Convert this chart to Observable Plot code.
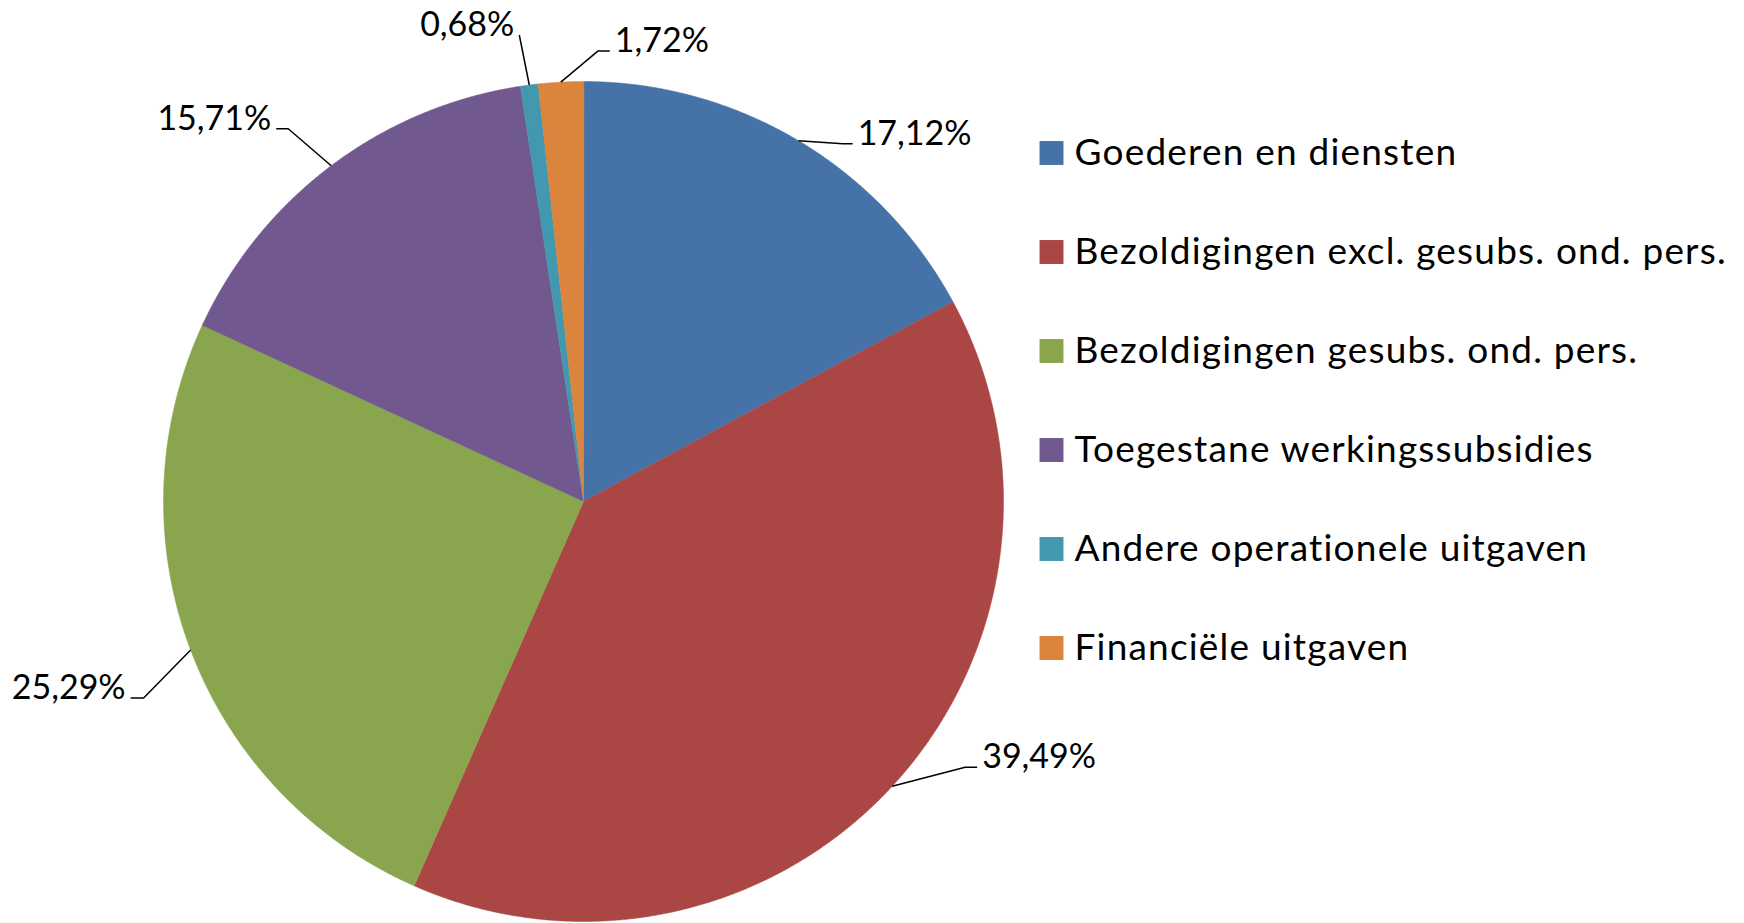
<!DOCTYPE html>
<html>
<head>
<meta charset="utf-8">
<script src="https://cdn.jsdelivr.net/npm/d3@7"></script>
<script src="https://cdn.jsdelivr.net/npm/@observablehq/plot@0.6"></script>
<style>
  html, body { margin: 0; padding: 0; background: #ffffff; }
  #chart svg { display: block; }
  .legend-text text { letter-spacing: 1.2px; }
</style>
</head>
<body>
<div id="chart"></div>
<script>
// ---- data ----
const categories = [
  "Goederen en diensten",
  "Bezoldigingen excl. gesubs. ond. pers.",
  "Bezoldigingen gesubs. ond. pers.",
  "Toegestane werkingssubsidies",
  "Andere operationele uitgaven",
  "Financiële uitgaven"
];
const values = [17.12, 39.49, 25.29, 15.71, 0.68, 1.72];
const colors = ["#4572A7", "#AA4643", "#89A54E", "#71588F", "#4198AF", "#DB843D"];

// ---- layout (pixels) ----
const W = 1744, H = 923;
const CX = 583, CY = 501, R = 420;
// label leader offsets relative to the slice mid-point on the rim: [dx, dy, side, tail]
const labelLayout = [
  [44, 3, 1, 10],
  [73, -19, 1, 12],
  [-47, 48, -1, 13],
  [-43, -37, -1, 12],
  [-10, -50, -1, 0],
  [37, -31, 1, 12]
];
const legendX = 1051, legendY0 = 152.5, legendStep = 99, legendTextX = 1074;

// pixel -> data units (radius = 1)
const ux = px => (px - CX) / R;
const uy = py => (CY - py) / R;

const fmt = v => d3.format(".2f")(v).replace(".", ",") + "%";

const arcs = d3.pie().sort(null).value(d => d)(values);

// pie slice polygons
const slicePts = [];
arcs.forEach((a, i) => {
  const cat = categories[i];
  slicePts.push({cat, x: 0, y: 0});
  const n = Math.max(2, Math.ceil((a.endAngle - a.startAngle) / (Math.PI / 720)));
  for (let k = 0; k <= n; k++) {
    const t = a.startAngle + (a.endAngle - a.startAngle) * k / n;
    slicePts.push({cat, x: Math.sin(t), y: Math.cos(t)});
  }
});

// leader lines and labels
const leaderPts = [];
const labelData = [];
arcs.forEach((a, i) => {
  const m = (a.startAngle + a.endAngle) / 2;
  const ax = CX + R * Math.sin(m), ay = CY - R * Math.cos(m);
  const [dx, dy, side, tail] = labelLayout[i];
  const ex = ax + dx, ey = ay + dy;
  const fx = ex + side * tail;
  const id = categories[i];
  leaderPts.push({id, x: ux(ax), y: uy(ay)});
  leaderPts.push({id, x: ux(ex), y: uy(ey)});
  if (tail > 0) leaderPts.push({id, x: ux(fx), y: uy(ey)});
  labelData.push({
    text: fmt(values[i]),
    side,
    x: ux(fx + side * 5),
    y: uy(ey - 10)
  });
});

const legendData = categories.map((c, i) => ({
  cat: c,
  sx: ux(legendX),
  tx: ux(legendTextX),
  y: uy(legendY0 + legendStep * i)
}));

const chart = Plot.plot({
  width: W,
  height: H,
  margin: 0,
  x: {domain: [ux(0), ux(W)], range: [0, W], axis: null},
  y: {domain: [uy(H), uy(0)], range: [H, 0], axis: null},
  color: {domain: categories, range: colors},
  style: {fontFamily: "Lato, 'Open Sans', sans-serif", background: "#ffffff", color: "#000"},
  marks: [
    Plot.line(slicePts, {x: "x", y: "y", z: "cat", fill: "cat", stroke: "cat", strokeWidth: 0.5, curve: "linear-closed"}),
    Plot.line(leaderPts, {x: "x", y: "y", z: "id", stroke: "#000", strokeWidth: 1.5, strokeLinecap: "butt", strokeLinejoin: "miter"}),
    Plot.text(labelData.filter(d => d.side > 0), {x: "x", y: "y", text: "text", textAnchor: "start", fontSize: 34, fill: "#000"}),
    Plot.text(labelData.filter(d => d.side < 0), {x: "x", y: "y", text: "text", textAnchor: "end", fontSize: 34, fill: "#000"}),
    Plot.dot(legendData, {x: "sx", y: "y", fill: "cat", symbol: "square", r: 13.5}),
    Plot.text(legendData, {x: "tx", y: "y", text: "cat", textAnchor: "start", fontSize: 37, fill: "#000", className: "legend-text"})
  ]
});
document.getElementById("chart").appendChild(chart);
</script>
</body>
</html>
